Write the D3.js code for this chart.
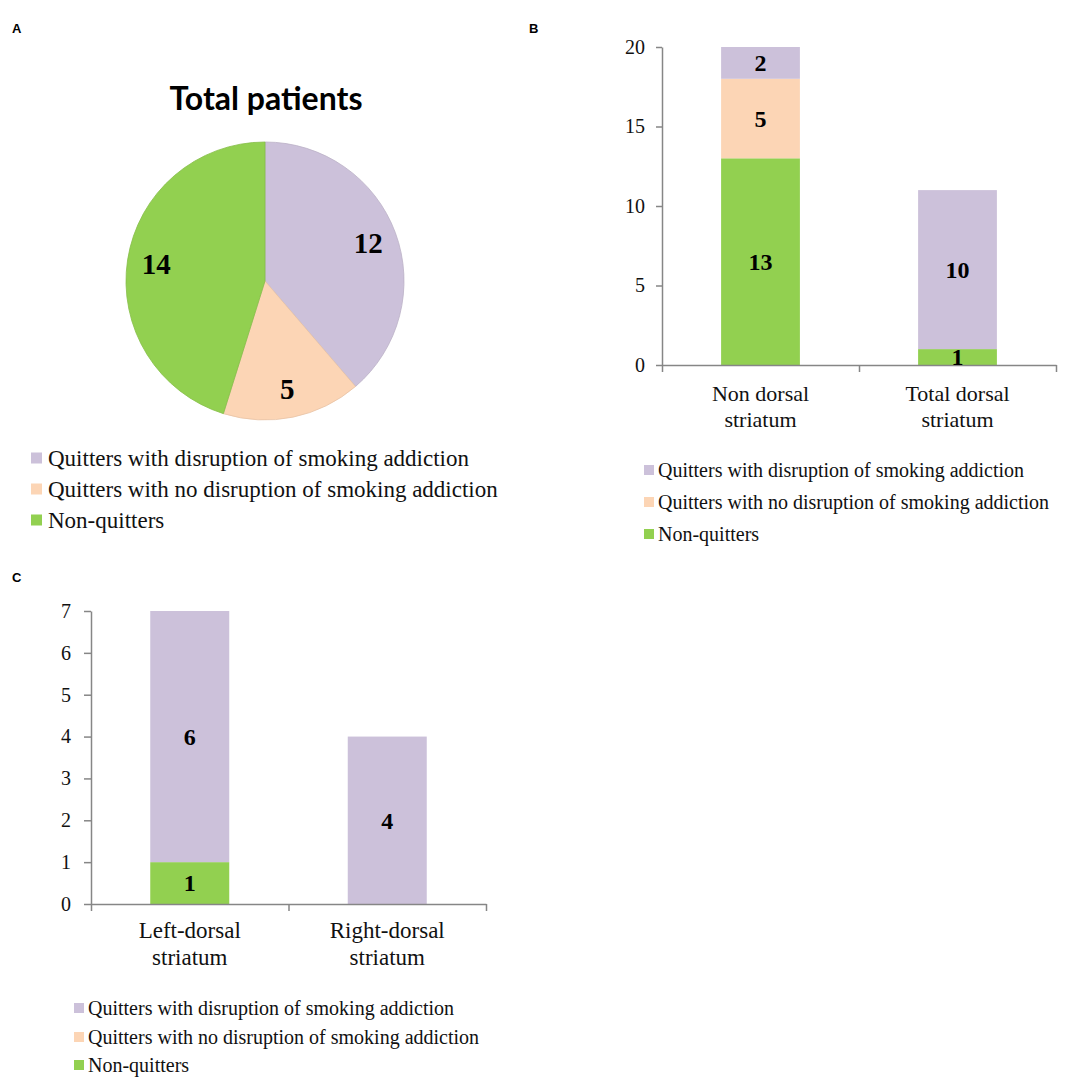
<!DOCTYPE html>
<html><head><meta charset="utf-8">
<script src="https://cdn.jsdelivr.net/npm/d3@7"></script>
<style>
html,body{margin:0;padding:0;background:#fff;}
svg{display:block;}
</style></head>
<body>
<svg id="chart" width="1068" height="1080"></svg>
<script>
// ---------- data ----------
const seriesNames = [
  "Quitters with disruption of smoking addiction",
  "Quitters with no disruption of smoking addiction",
  "Non-quitters"
];
const seriesColors = ["#CCC1DA", "#FCD5B5", "#92D050"];
const pieTitle = "Total patients";
const pieValues = [12, 5, 14];

const bCategories = [["Non dorsal", "striatum"], ["Total dorsal", "striatum"]];
const bNonQuitters = [13, 1];
const bNoDisruption = [5, 0];
const bDisruption = [2, 10];
const bTicks = [0, 5, 10, 15, 20];

const cCategories = [["Left-dorsal", "striatum"], ["Right-dorsal", "striatum"]];
const cNonQuitters = [1, 0];
const cNoDisruption = [0, 0];
const cDisruption = [6, 4];
const cTicks = [0, 1, 2, 3, 4, 5, 6, 7];

const panelLabels = ["A", "B", "C"];

// ---------- drawing ----------
const svg = d3.select("#chart");
const serif = "'Liberation Serif','Times New Roman',serif";
const axisColor = "#868686";

// panel letters
const panelPos = [[12, 33], [529, 33], [12, 582]];
panelLabels.forEach((l, i) => {
  svg.append("text").attr("x", panelPos[i][0]).attr("y", panelPos[i][1])
    .attr("font-family", "'Liberation Sans',Arial,sans-serif")
    .attr("font-weight", "bold").attr("font-size", 13).text(l);
});

// ---------- Panel A: pie ----------
(function () {
  const cx = 265, cy = 281, r = 139;
  const g = svg.append("g").attr("transform", `translate(${cx},${cy})`);
  svg.append("text").attr("x", 266).attr("y", 110)
    .attr("text-anchor", "middle").attr("font-family", "Lato,'Open Sans',sans-serif")
    .attr("font-weight", "bold").attr("font-size", 32).text(pieTitle);
  const pie = d3.pie().sort(null).value(d => d);
  const arcs = pie(pieValues);
  const arc = d3.arc().innerRadius(0).outerRadius(r);
  const labelArc = d3.arc().innerRadius(110).outerRadius(110);
  g.selectAll("path.slice").data(arcs).join("path")
    .attr("class", "slice")
    .attr("d", arc)
    .attr("fill", (d, i) => seriesColors[i])
    .attr("stroke", (d, i) => d3.color(seriesColors[i]).darker(0.25))
    .attr("stroke-width", 0.8);
  g.selectAll("text.lbl").data(arcs).join("text")
    .attr("class", "lbl")
    .attr("transform", d => `translate(${labelArc.centroid(d)})`)
    .attr("text-anchor", "middle").attr("dy", "0.35em")
    .attr("font-family", serif).attr("font-weight", "bold").attr("font-size", 29)
    .text(d => d.data);

  // legend
  const lg = svg.append("g");
  const rows = [458, 489, 520];
  seriesNames.forEach((n, i) => {
    lg.append("rect").attr("x", 31).attr("y", rows[i] - 5.5).attr("width", 11).attr("height", 11)
      .attr("fill", seriesColors[i]);
    lg.append("text").attr("x", 48).attr("y", rows[i]).attr("dy", "0.33em")
      .attr("font-family", serif).attr("font-size", 23).attr("fill", "#111").text(n);
  });
})();

// ---------- stacked bar panel helper ----------
function stackedPanel(opt) {
  const g = svg.append("g");
  const rows = opt.categories.map((c, i) => ({
    cat: i,
    nonq: opt.nonq[i], nodis: opt.nodis[i], dis: opt.dis[i]
  }));
  const keys = ["nonq", "nodis", "dis"];
  const keyColor = { nonq: seriesColors[2], nodis: seriesColors[1], dis: seriesColors[0] };
  const stacked = d3.stack().keys(keys)(rows);

  const y = d3.scaleLinear().domain([0, d3.max(opt.ticks)]).range([opt.y0, opt.y1]);
  const x = d3.scaleBand().domain(rows.map(d => d.cat)).range([opt.x0, opt.x1])
    .paddingInner(0).paddingOuter(0);
  const bw = x.bandwidth() * 0.4;
  const xb = d3.scaleLinear().domain([0, rows.length]).range([opt.x0, opt.x1]);

  // bars
  stacked.forEach(layer => {
    g.selectAll(null).data(layer.filter(d => d[1] - d[0] > 0)).join("rect")
      .attr("x", d => x(d.data.cat) + (x.bandwidth() - bw) / 2)
      .attr("width", bw)
      .attr("y", d => y(d[1]))
      .attr("height", d => y(d[0]) - y(d[1]))
      .attr("fill", keyColor[layer.key]);
  });

  // y axis
  const ya = g.append("g").attr("transform", `translate(${opt.x0},0)`)
    .call(d3.axisLeft(y).tickValues(opt.ticks).tickSize(opt.tick).tickSizeOuter(0)
      .tickPadding(opt.pad).tickFormat(d3.format("d")));
  ya.select(".domain").attr("stroke", axisColor).attr("stroke-width", 1.5);
  ya.selectAll(".tick line").attr("stroke", axisColor).attr("stroke-width", 1.5);
  ya.selectAll(".tick text").attr("font-family", serif).attr("font-size", 20).attr("fill", "#111");

  // x axis (boundaries)
  const xa = g.append("g").attr("transform", `translate(0,${opt.y0})`)
    .call(d3.axisBottom(xb).tickValues(d3.range(rows.length + 1)).tickSize(7)
      .tickSizeOuter(0).tickFormat(""));
  xa.select(".domain").attr("stroke", axisColor).attr("stroke-width", 1.5);
  xa.selectAll(".tick line").attr("stroke", axisColor).attr("stroke-width", 1.5);

  // category labels
  opt.categories.forEach((lines, i) => {
    const t = g.append("text").attr("text-anchor", "middle")
      .attr("font-family", serif).attr("font-size", opt.catSize).attr("fill", "#111");
    lines.forEach((ln, j) => {
      t.append("tspan").attr("x", x(i) + x.bandwidth() / 2)
        .attr("y", opt.y0 + opt.catOff[j]).text(ln);
    });
  });

  // value labels
  stacked.forEach(layer => {
    g.selectAll(null).data(layer.filter(d => d[1] - d[0] > 0)).join("text")
      .attr("x", d => x(d.data.cat) + x.bandwidth() / 2)
      .attr("y", d => (y(d[0]) + y(d[1])) / 2)
      .attr("dy", "0.35em").attr("text-anchor", "middle")
      .attr("font-family", serif).attr("font-weight", "bold").attr("font-size", 24)
      .attr("fill", "#000")
      .text(d => d[1] - d[0]);
  });

  // legend
  seriesNames.forEach((n, i) => {
    g.append("rect").attr("x", opt.legX).attr("y", opt.legRows[i] - 5).attr("width", 10).attr("height", 10)
      .attr("fill", seriesColors[i]);
    g.append("text").attr("x", opt.legX + 14).attr("y", opt.legRows[i]).attr("dy", "0.33em")
      .attr("font-family", serif).attr("font-size", 20).attr("fill", "#111").text(n);
  });
}

// Panel B
stackedPanel({
  categories: bCategories, nonq: bNonQuitters, nodis: bNoDisruption, dis: bDisruption,
  ticks: bTicks, x0: 662, x1: 1056, y0: 365, y1: 47, tick: 6, pad: 11,
  catSize: 22, catOff: [36, 62],
  legX: 644, legRows: [470, 502, 534]
});

// Panel C
stackedPanel({
  categories: cCategories, nonq: cNonQuitters, nodis: cNoDisruption, dis: cDisruption,
  ticks: cTicks, x0: 91, x1: 486, y0: 904, y1: 611, tick: 7, pad: 13,
  catSize: 23, catOff: [34, 61],
  legX: 74, legRows: [1008, 1037, 1065]
});
</script>
</body></html>
